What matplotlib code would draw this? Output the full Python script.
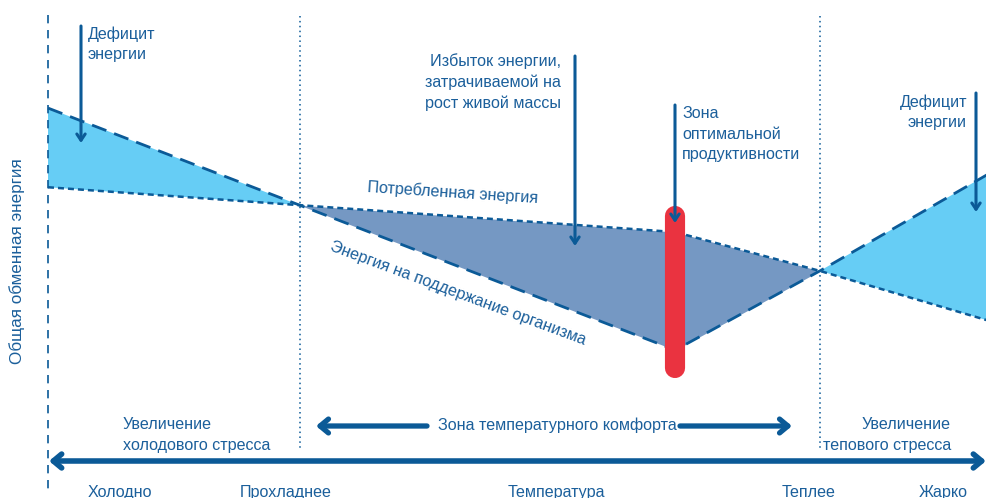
import matplotlib
matplotlib.use("Agg")
import matplotlib.pyplot as plt
import numpy as np

plt.rcParams['font.family'] = ['Liberation Sans', 'DejaVu Sans']

# ---- data (conceptual units: temperature 0..100, energy 0..100) ----
temperature = [0, 26.8, 66.8, 82.2, 100]
maintenance_energy = [78.3, 58.8, 29.7, 45.6, 64.9]   # dashed line
consumed_energy = [62.4, 58.8, 53.4, 45.6, 35.7]      # dotted line
optimum_temp = 66.8
optimum_range = [26.2, 56.6]
zone_bounds = [26.8, 82.2]
zone_labels = ["Холодно", "Прохладнее", "Температура", "Теплее", "Жарко"]

LINE = '#0b5a97'
TEXT = '#1b5f9b'
LIGHT = '#66cdf5'
DARK = '#7598c3'
RED = '#ea3340'

W, H = 987, 498
fig = plt.figure(figsize=(W / 100, H / 100), dpi=100)
ax = fig.add_axes([0, 0, 1, 1])
X0, SX = 48, 9.39
ax.set_xlim(-X0 / SX, (W - X0) / SX)
ax.set_ylim(0, 100)
ax.axis('off')

def X(px):
    return (px - X0) / SX

def Y(py):
    return (H - py) / 4.98

t = np.array(temperature)
m = np.array(maintenance_energy)
c = np.array(consumed_energy)

ax.fill_between(t, m, c, where=m >= c, color=LIGHT, lw=0, interpolate=True)
ax.fill_between(t, m, c, where=m <= c, color=DARK, lw=0, interpolate=True)

ax.plot(t, m, color=LINE, lw=2.0, dashes=(5.5, 3.0), zorder=3)
ax.plot(t, c, color=LINE, lw=1.8, dashes=(2.4, 1.6), zorder=3)

# vertical guides
ax.plot([X(48), X(48)], [Y(15), Y(492)], color=LINE, lw=1.2, dashes=(5, 4), zorder=2)
for zb in zone_bounds:
    ax.plot([zb, zb], [Y(16), Y(450)], color=LINE, lw=1.1, dashes=(1, 2.2), zorder=2)

# optimum bar
ax.plot([optimum_temp, optimum_temp], optimum_range, color=RED, lw=14.5,
        solid_capstyle='round', zorder=4)

def arrow(x1, y1, x2, y2, lw=2.2, hl=0.45, hw=0.3):
    ax.annotate('', xy=(X(x2), Y(y2)), xytext=(X(x1), Y(y1)),
                arrowprops=dict(arrowstyle=f'->,head_length={hl},head_width={hw}',
                                lw=lw, color=LINE, shrinkA=0, shrinkB=0),
                zorder=5)

arrow(81, 26, 81, 143)
arrow(575, 56, 575, 246)
arrow(675, 105, 675, 223)
arrow(976, 93, 976, 212)

fs = 11.6
kw = dict(color=TEXT, fontsize=fs, linespacing=1.42)
ax.text(X(88), Y(44), "Дефицит\nэнергии", ha='left', va='center', **kw)
ax.text(X(561), Y(82), "Избыток энергии,\nзатрачиваемой на\nрост живой массы",
        ha='right', va='center', multialignment='right', **kw)
ax.text(X(682), Y(134), "Зона\nоптимальной\nпродуктивности", ha='left', va='center', **kw)
ax.text(X(967), Y(112), "Дефицит\nэнергии", ha='right', va='center',
        multialignment='right', **kw)

ax.text(X(453), Y(193), "Потребленная энергия", ha='center', va='center',
        rotation=-3.7, rotation_mode='anchor', **kw)
ax.text(X(458), Y(293), "Энергия на поддержание организма", ha='center', va='center',
        rotation=-20.4, rotation_mode='anchor', **kw)

# bottom axis arrow
ax.annotate('', xy=(X(986), Y(461)), xytext=(X(49), Y(461)),
            arrowprops=dict(arrowstyle='<->,head_length=0.6,head_width=0.5',
                            lw=4.0, color=LINE, shrinkA=0, shrinkB=0))
# comfort zone arrows
arrow(427, 426, 316, 426, lw=3.8, hl=0.6, hw=0.5)
arrow(680, 426, 792, 426, lw=3.8, hl=0.6, hw=0.5)
ax.text(X(557), Y(425), "Зона температурного комфорта", ha='center', va='center', **kw)

ax.text(X(123), Y(435), "Увеличение\nхолодового стресса", ha='left', va='center', **kw)
ax.text(X(951), Y(435), "Увеличение\nтепового стресса", ha='right', va='center',
        multialignment='right', **kw)

label_px = [120, 286, 556, 809, 943]
for lab, px in zip(zone_labels, label_px):
    ax.text(X(px), Y(492), lab, ha='center', va='center', **kw)

ax.text(X(17), Y(261), "Общая обменная энергия", ha='center', va='center',
        rotation=90, color=TEXT, fontsize=12.3)

fig.savefig('out.png', dpi=100)
